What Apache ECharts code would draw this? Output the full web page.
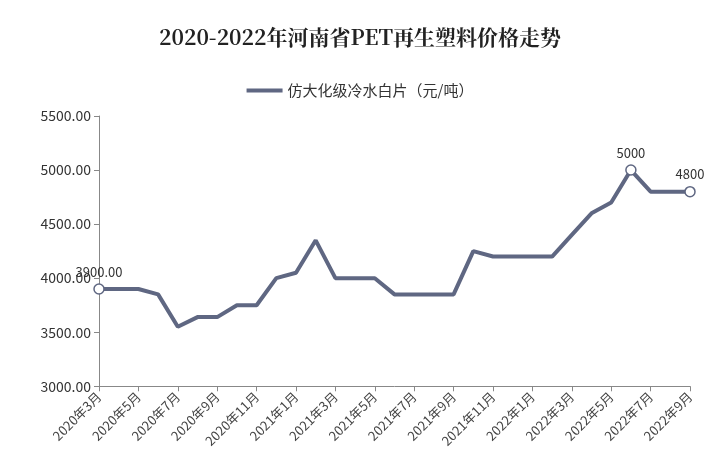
<!DOCTYPE html>
<html><head><meta charset="utf-8">
<script src="https://cdn.jsdelivr.net/npm/echarts@6/dist/echarts.min.js"></script>
<style>html,body{margin:0;padding:0;background:#fff}#c{width:720px;height:450px}</style>
</head><body><div id="c"></div>
<script>
const categories = [];
for (let y = 2020; y <= 2022; y++) for (let m = 1; m <= 12; m++) {
  if ((y === 2020 && m < 3) || (y === 2022 && m > 9)) continue;
  categories.push(y + '年' + m + '月');
}
const values = [3900,3900,3900,3850,3550,3640,3640,3750,3750,4000,4050,4350,4000,4000,4000,3850,3850,3850,3850,4250,4200,4200,4200,4200,4400,4600,4700,5000,4800,4800,4800];
const labeled = {0:'3900.00', 27:'5000', 30:'4800'};
const data = values.map((v,i)=> labeled[i] ? {value:v, symbol:'circle', symbolSize:10,
  label:{show:true, position:'top', formatter:labeled[i], color:'#333', fontSize:13}} : {value:v});
const chart = echarts.init(document.getElementById('c'));
chart.setOption({
  textStyle:{fontFamily:'"Noto Sans CJK SC", sans-serif'},
  title:{text:'2020-2022年河南省PET再生塑料价格走势', left:'center', top:22,
    textStyle:{fontSize:21, fontWeight:'bold', color:'#222', fontFamily:'"Noto Serif CJK SC","Noto Sans CJK SC",serif'}},
  legend:{top:78, left:'center', itemWidth:36, itemHeight:4, icon:'rect',
    itemStyle:{color:'#5f6782', borderWidth:0},
    textStyle:{fontSize:15, color:'#333'}, data:['仿大化级冷水白片（元/吨）']},
  grid:{left:99, right:30, top:116, bottom:63},
  xAxis:{type:'category', data:categories, boundaryGap:false,
    axisLine:{lineStyle:{color:'#888'}}, axisTick:{show:true, alignWithLabel:true, interval:1, lineStyle:{color:'#888'}},
    axisLabel:{interval:1, rotate:45, color:'#444', fontSize:13, margin:8}},
  yAxis:{type:'value', min:3000, max:5500, interval:500,
    axisLine:{show:true, lineStyle:{color:'#888'}}, axisTick:{show:true, lineStyle:{color:'#888'}},
    splitLine:{show:false},
    axisLabel:{formatter:v=>v.toFixed(2), color:'#333', fontSize:14}},
  series:[{name:'仿大化级冷水白片（元/吨）', type:'line', data:data, symbol:'none', showAllSymbol:true,
    lineStyle:{color:'#5f6782', width:4}, itemStyle:{color:'#fff', borderColor:'#5f6782', borderWidth:1.5},
    color:'#5f6782'}]
});
</script></body></html>
